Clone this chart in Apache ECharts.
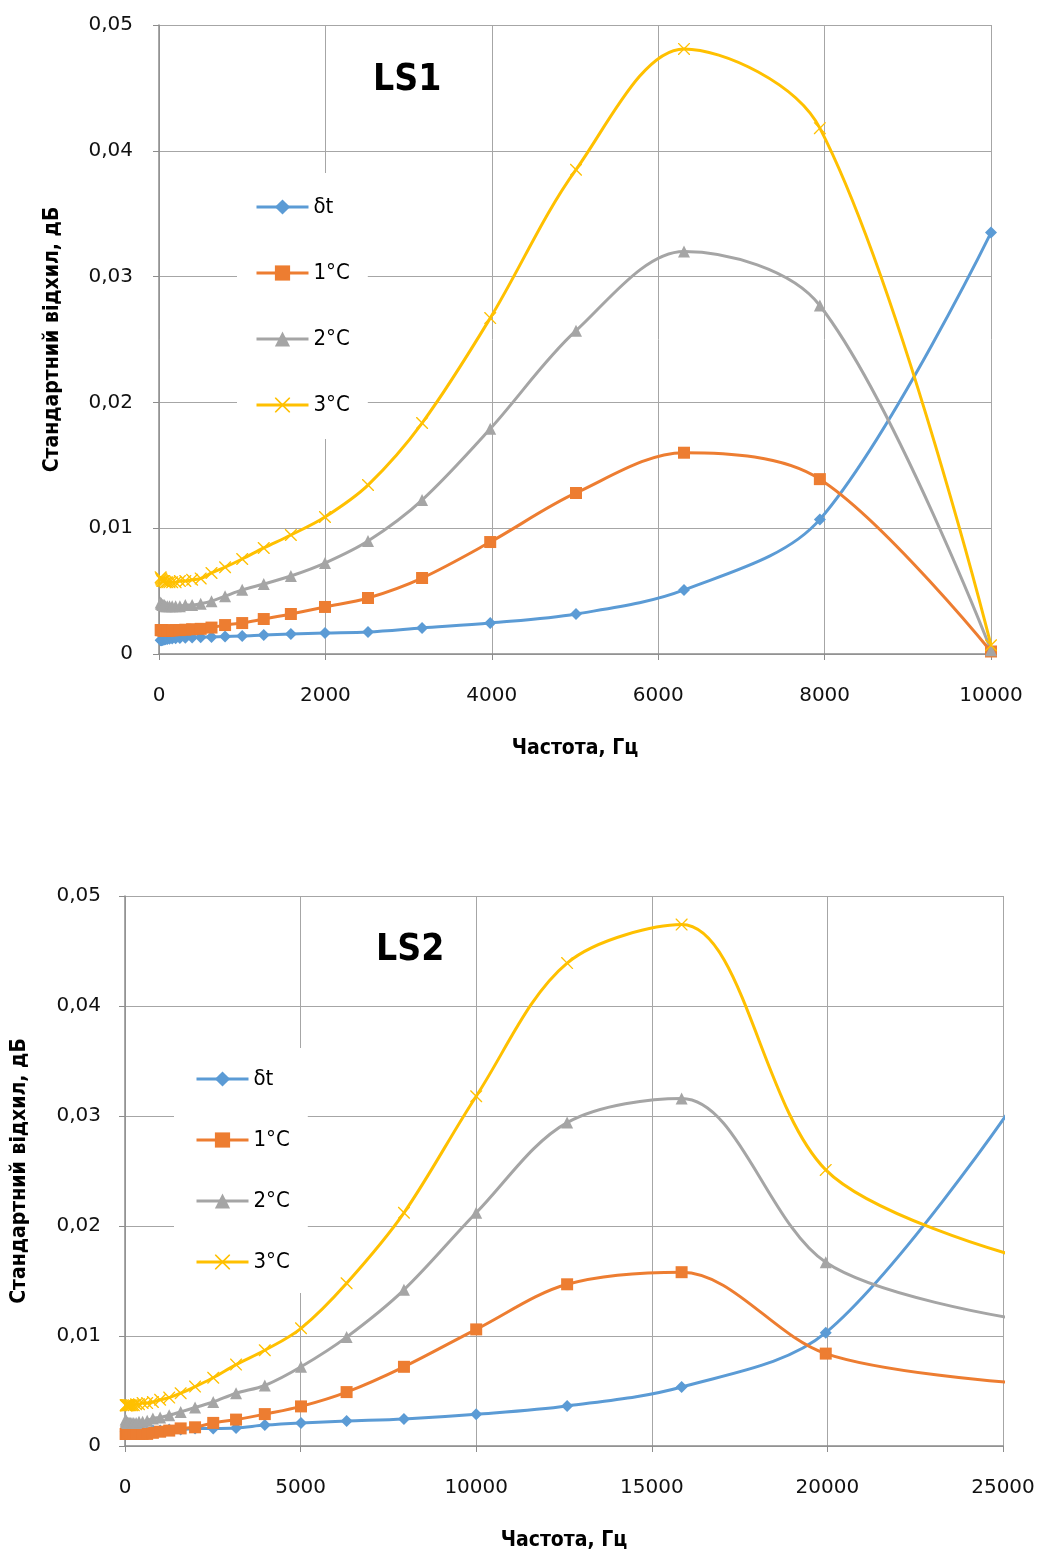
<!DOCTYPE html>
<html>
<head>
<meta charset="utf-8">
<script src="https://cdn.jsdelivr.net/npm/echarts@6/dist/echarts.min.js"></script>
<style>
  html, body { margin: 0; padding: 0; background: #fff; }
  #chart { width: 1038px; height: 1553px; }
</style>
</head>
<body>
<div id="chart"></div>
<script>
// 1/3-octave frequencies, Hz
var freqLS1 = [19.95, 25.12, 31.62, 39.81, 50.12, 63.1, 79.43, 100, 125.9, 158.5, 199.5, 251.2, 316.2, 398.1,
  501.2, 631, 794.3, 1000, 1259, 1585, 1995, 2512, 3162, 3981, 5012, 6310, 7943, 10000];
var freqLS2 = [19.95, 25.12, 31.62, 39.81, 50.12, 63.1, 79.43, 100, 125.9, 158.5, 199.5, 251.2, 316.2, 398.1,
  501.2, 631, 794.3, 1000, 1259, 1585, 1995, 2512, 3162, 3981, 5012, 6310, 7943, 10000, 12589, 15849, 19953, 25119];

var names = ['δt', '1°C', '2°C', '3°C'];

// LS1
var ls1_dt = [0.0011, 0.0011, 0.0011, 0.00112, 0.00114, 0.00116, 0.00118, 0.0012, 0.00122, 0.00124, 0.00126, 0.00128, 0.0013, 0.00132,
  0.00134, 0.00136, 0.0014, 0.00143, 0.00151, 0.00159, 0.00167, 0.00175, 0.00207, 0.00246, 0.00318, 0.00509, 0.0107, 0.0335];
var ls1_1 = [0.0019, 0.0019, 0.0019, 0.0019, 0.00185, 0.00185, 0.00185, 0.00185, 0.00185, 0.00188, 0.0019, 0.0019, 0.00193, 0.00197,
  0.002, 0.0021, 0.0023, 0.00246, 0.00278, 0.00318, 0.00374, 0.00445, 0.00604, 0.0089, 0.0128, 0.016, 0.0139, 0.0002];
var ls1_2 = [0.0041, 0.004, 0.004, 0.0039, 0.0039, 0.0039, 0.0038, 0.0038, 0.0038, 0.0038, 0.0038, 0.0038, 0.0039, 0.0039,
  0.004, 0.0042, 0.0046, 0.0051, 0.00556, 0.0062, 0.00723, 0.00898, 0.01224, 0.0179, 0.0257, 0.032, 0.0277, 0.0003];
var ls1_3 = [0.0061, 0.006, 0.0059, 0.0058, 0.0058, 0.0058, 0.0057, 0.0057, 0.0057, 0.0057, 0.0057, 0.0058, 0.0058, 0.0059,
  0.006, 0.00644, 0.0069, 0.00755, 0.00843, 0.00946, 0.01089, 0.01343, 0.01836, 0.0267, 0.0385, 0.0481, 0.0418, 0.0007];

// LS2
var ls2_dt = [0.0013, 0.0013, 0.0013, 0.0013, 0.0013, 0.0013, 0.0013, 0.0013, 0.0013, 0.0013, 0.0013, 0.0013, 0.0013, 0.0013,
  0.0013, 0.0013, 0.0014, 0.0014, 0.0015, 0.0015, 0.0016, 0.0016, 0.00164, 0.0019, 0.0021, 0.00227, 0.00245, 0.00288, 0.00364, 0.00536, 0.0103, 0.0302];
var ls2_1 = [0.0011, 0.0011, 0.0011, 0.0011, 0.0011, 0.0011, 0.0011, 0.0011, 0.0011, 0.0011, 0.0011, 0.0011, 0.0011, 0.0011,
  0.0011, 0.0011, 0.0012, 0.0013, 0.0014, 0.0016, 0.0017, 0.0021, 0.0024, 0.0029, 0.0036, 0.0049, 0.0072, 0.0106, 0.0147, 0.0158, 0.0084, 0.0058];
var ls2_2 = [0.0024, 0.0023, 0.0022, 0.0022, 0.0022, 0.0021, 0.0021, 0.0021, 0.0021, 0.0021, 0.0021, 0.0021, 0.0021, 0.0022,
  0.0022, 0.0023, 0.0025, 0.0026, 0.0028, 0.0031, 0.0035, 0.004, 0.0048, 0.0055, 0.0072, 0.0099, 0.0142, 0.0212, 0.0294, 0.0316, 0.0167, 0.0117];
var ls2_3 = [0.0037, 0.0037, 0.0037, 0.0037, 0.0037, 0.0037, 0.0037, 0.0037, 0.0037, 0.0037, 0.0037, 0.0037, 0.0038, 0.0038,
  0.0039, 0.0039, 0.004, 0.0042, 0.0044, 0.0048, 0.0054, 0.0062, 0.0074, 0.0087, 0.0107, 0.0148, 0.0212, 0.0318, 0.0439, 0.0474, 0.0251, 0.0175];

var colors = ['#5B9BD5', '#ED7D31', '#A5A5A5', '#FFC000'];
// thin "x" marker
var crossPath = 'path://M0,0L0.8,0L5,4.2L9.2,0L10,0L10,0.8L5.8,5L10,9.2L10,10L9.2,10L5,5.8L0.8,10L0,10L0,9.2L4.2,5L0,0.8Z';
var symbols = ['diamond', 'rect', 'triangle', crossPath];
var symbolSizes = [12, 12, 12, 12];

var tickFont = 'DejaVu Sans';
var boldFont = '"Liberation Sans Narrow", "DejaVu Sans Condensed", sans-serif';

function pairs(xs, ys) {
  return ys.map(function (v, i) { return [xs[i], v]; });
}

function mkSeries(gi, xs, data) {
  return data.map(function (d, i) {
    return {
      name: names[i],
      type: 'line',
      xAxisIndex: gi,
      yAxisIndex: gi,
      data: pairs(xs, d),
      smooth: 0.33,
      clip: true,
      symbol: symbols[i],
      symbolSize: symbolSizes[i],
      lineStyle: { width: 3, color: colors[i] },
      itemStyle: { color: colors[i] }
    };
  });
}

function yFmt(v) {
  return v === 0 ? '0' : v.toFixed(2).replace('.', ',');
}

var gridLine = { show: true, lineStyle: { color: '#a6a6a6', width: 1 } };
var axLine = { show: true, onZero: false, lineStyle: { color: '#8c8c8c', width: 1.5 } };

function xAx(gi, max, step) {
  return {
    type: 'value', gridIndex: gi, min: 0, max: max, interval: step,
    name: 'Частота, Гц', nameLocation: 'middle', nameGap: 84,
    nameTextStyle: { fontFamily: boldFont, fontWeight: 'bold', fontSize: 21, color: '#000' },
    axisLine: axLine,
    axisTick: { show: true, length: 6, lineStyle: { color: '#8c8c8c' } },
    axisLabel: { fontFamily: tickFont, fontSize: 20, color: '#111', margin: 32,
      formatter: function (v) { return String(v); } },
    splitLine: gridLine
  };
}

function yAx(gi, gap, margin) {
  return {
    type: 'value', gridIndex: gi, min: 0, max: 0.05, interval: 0.01,
    name: 'Стандартний відхил, дБ', nameLocation: 'middle', nameGap: gap, nameRotate: 90,
    nameTextStyle: { fontFamily: boldFont, fontWeight: 'bold', fontSize: 21, color: '#000' },
    axisLine: axLine,
    axisTick: { show: true, length: 6, lineStyle: { color: '#8c8c8c' } },
    axisLabel: { fontFamily: tickFont, fontSize: 20, color: '#111', margin: margin, formatter: yFmt },
    splitLine: gridLine
  };
}

function mkLegend(left, top, gap, padding) {
  return {
    orient: 'vertical', left: left, top: top,
    data: names,
    itemWidth: 52, itemHeight: 19, itemGap: gap,
    backgroundColor: '#fff',
    padding: padding,
    lineStyle: { width: 3 },
    textStyle: { fontFamily: boldFont, fontSize: 22, color: '#000', lineHeight: 24 }
  };
}

var chart = echarts.init(document.getElementById('chart'), null, { renderer: 'canvas' });
chart.setOption({
  animation: false,
  backgroundColor: '#fff',
  color: colors,
  title: [
    { text: 'LS1', left: 373, top: 62, padding: 0,
      textStyle: { fontFamily: boldFont, fontWeight: 'bold', fontSize: 37, color: '#000' } },
    { text: 'LS2', left: 376, top: 932, padding: 0,
      textStyle: { fontFamily: boldFont, fontWeight: 'bold', fontSize: 37, color: '#000' } }
  ],
  legend: [
    mkLegend(237, 173, 42, [22, 18, 22, 18]),
    mkLegend(174, 1048, 37, [19, 18, 19, 21])
  ],
  grid: [
    { left: 159, top: 25, width: 832, height: 629 },
    { left: 125, top: 896, width: 878, height: 550 }
  ],
  xAxis: [xAx(0, 10000, 2000), xAx(1, 25000, 5000)],
  yAxis: [yAx(0, 96, 26), yAx(1, 95, 24)],
  series: mkSeries(0, freqLS1, [ls1_dt, ls1_1, ls1_2, ls1_3])
    .concat(mkSeries(1, freqLS2, [ls2_dt, ls2_1, ls2_2, ls2_3]))
});
</script>
</body>
</html>
